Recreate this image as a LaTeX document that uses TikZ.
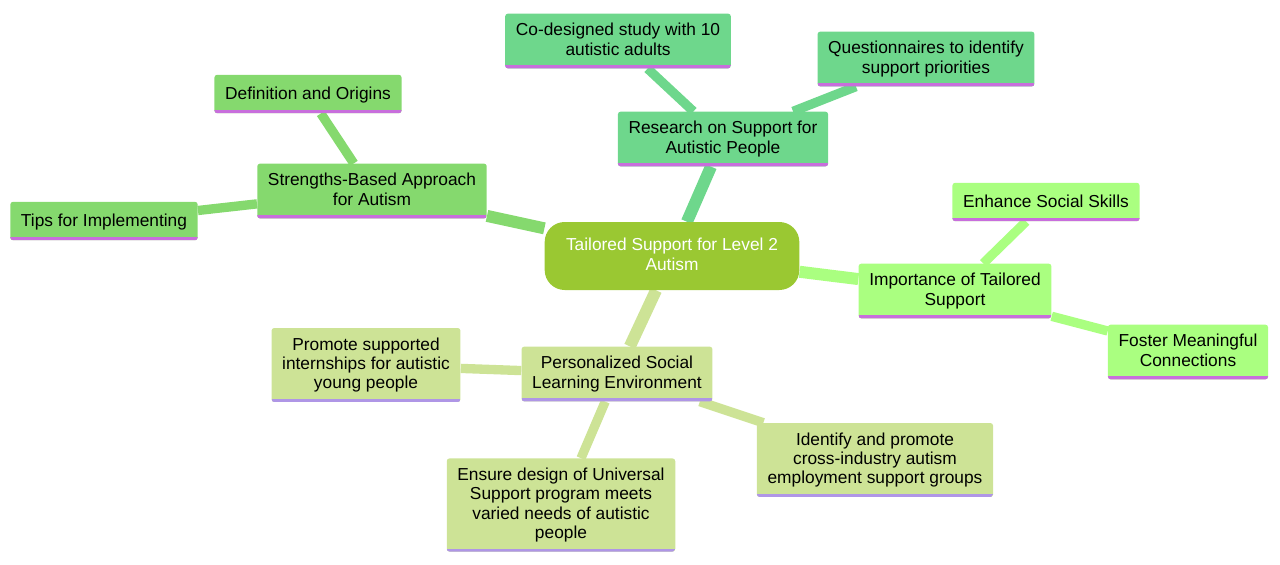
\documentclass[tikz,border=0pt]{standalone}
\usepackage{fontspec}
\setmainfont{Liberation Sans}
\usetikzlibrary{backgrounds}

\definecolor{rootfill}{RGB}{154,200,50}
\definecolor{secres}{RGB}{110,215,140}
\definecolor{secstr}{RGB}{133,217,110}
\definecolor{secimp}{RGB}{170,255,128}
\definecolor{secper}{RGB}{205,227,150}
\definecolor{ulpurple}{RGB}{200,110,220}
\definecolor{ullav}{RGB}{175,150,230}

\newcommand{\linestrut}{\rule[-2.8pt]{0pt}{14.4pt}}
\tikzset{ul/.store in=\ulcolor, ul=ulpurple}

\begin{document}
\begin{tikzpicture}[x=0.75pt,y=-0.75pt]
        \tikzstyle{topic}=[rectangle,rounded corners=2pt,align=center,font=\fontsize{13}{14.4}\selectfont,
            inner xsep=8pt,inner ysep=7.2pt,execute at begin node=\linestrut,execute at end node=\linestrut,
            path picture={\draw[line width=4.5pt,draw=\ulcolor] (path picture bounding box.south west) -- (path picture bounding box.south east);}]
        \tikzstyle{rootnode}=[rectangle,rounded corners=15pt,fill=rootfill,text=white,align=center,
            font=\fontsize{13}{14.4}\selectfont,minimum width=191pt,minimum height=51pt,
            execute at begin node=\linestrut,execute at end node=\linestrut]
        \tikzstyle{trunk}=[line width=9pt]
        \tikzstyle{twig}=[line width=7pt]

        \useasboundingbox (0,0) rectangle (1280,564);

        \node[rootnode](root) at (672,256) {Tailored Support for Level 2\\Autism};

        % research branch
        \node[topic,fill=secres](res) at (723,139) {Research on Support for\\Autistic People};
        \node[topic,fill=secres](codes) at (618,41) {Co-designed study with 10\\autistic adults};
        \node[topic,fill=secres](quest) at (926,59) {Questionnaires to identify\\support priorities};

        % strengths branch
        \node[topic,fill=secstr](str) at (372,191) {Strengths-Based Approach\\for Autism};
        \node[topic,fill=secstr](defn) at (308,94) {Definition and Origins};
        \node[topic,fill=secstr](tips) at (104,221) {Tips for Implementing};

        % importance branch
        \node[topic,fill=secimp](imp) at (955,291) {Importance of Tailored\\Support};
        \node[topic,fill=secimp](enh) at (1046,202) {Enhance Social Skills};
        \node[topic,fill=secimp](fost) at (1188,352) {Foster Meaningful\\Connections};

        % personalized branch
        \node[topic,fill=secper,ul=ullav](pers) at (617,374) {Personalized Social\\Learning Environment};
        \node[topic,fill=secper,ul=ullav](prom) at (366,365) {Promote supported\\internships for autistic\\young people};
        \node[topic,fill=secper,ul=ullav](iden) at (875,460) {Identify and promote\\cross-industry autism\\employment support groups};
        \node[topic,fill=secper,ul=ullav](ensu) at (561,505) {Ensure design of Universal\\Support program meets\\varied needs of autistic\\people};

        \begin{scope}[on background layer]
        \draw[trunk,secres] (root) -- (res);
        \draw[twig,secres] (res) -- (codes);
        \draw[twig,secres] (res) -- (quest);
        \draw[trunk,secstr] (root) -- (str);
        \draw[twig,secstr] (str) -- (defn);
        \draw[twig,secstr] (str) -- (tips);
        \draw[trunk,secimp] (root) -- (imp);
        \draw[twig,secimp] (imp) -- (enh);
        \draw[twig,secimp] (imp) -- (fost);
        \draw[trunk,secper] (root) -- (pers);
        \draw[twig,secper] (pers) -- (prom);
        \draw[twig,secper] (pers) -- (iden);
        \draw[twig,secper] (pers) -- (ensu);
        \end{scope}
        \end{tikzpicture}
\end{document}
